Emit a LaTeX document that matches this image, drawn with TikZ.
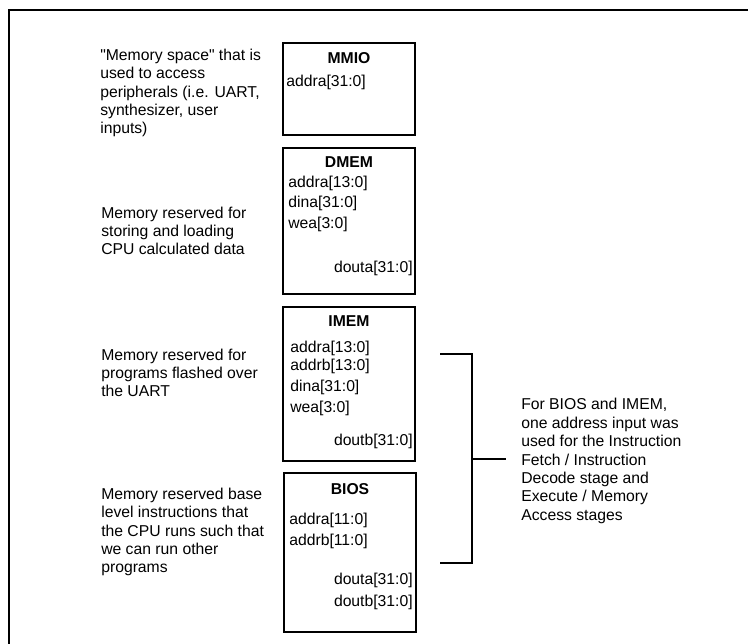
\documentclass[tikz,border=0pt]{standalone}
\usepackage{fontspec}
\setmainfont{Liberation Sans}[Ligatures=TeXOff]

\begin{document}
\begin{tikzpicture}[x=0.75pt,y=-0.75pt,
  every node/.style={inner sep=0pt, font=\fontsize{11.8pt}{13.6pt}\selectfont},
  membox/.style={draw, line width=0.9pt, minimum width=99pt},
  title/.style={font=\fontsize{11.8pt}{13.6pt}\selectfont\bfseries},
  port/.style={anchor=west},
  outport/.style={anchor=east},
  desc/.style={anchor=west, align=left}]

  \useasboundingbox (0,0) rectangle (748,643);

  % outer frame (only top and left edge are visible)
  \draw[line width=1.7pt] (9,660) -- (9,10) -- (760,10);

  % memory blocks
  \node[membox, minimum height=69pt] (mmio) at (349,89) {};
  \node[membox, minimum height=109.5pt] (dmem) at (349,221) {};
  \node[membox, minimum height=115.5pt] (imem) at (349,384) {};
  \node[membox, minimum height=119.25pt] (bios) at (350,552.5) {};

  \node[title] (mmiot) at (349,58) {MMIO};
  \node[port] (mmioaddra) at (286,82) {addra[31:0]};

  \node[title] (dmemt) at (349,162) {DMEM};
  \node[port] (dmemaddra) at (288,183) {addra[13:0]};
  \node[port] (dmemdina) at (288,203) {dina[31:0]};
  \node[port] (dmemwea) at (288,224) {wea[3:0]};
  \node[outport] (dmemdouta) at (413,268) {douta[31:0]};

  \node[title] (imemt) at (349,321) {IMEM};
  \node[port] (imemaddra) at (290,348) {addra[13:0]};
  \node[port] (imemaddrb) at (290,366) {addrb[13:0]};
  \node[port] (imemdina) at (290,387) {dina[31:0]};
  \node[port] (imemwea) at (290,408) {wea[3:0]};
  \node[outport] (imemdoutb) at (413,441) {doutb[31:0]};

  \node[title] (biost) at (350,489) {BIOS};
  \node[port] (biosaddra) at (289,520) {addra[11:0]};
  \node[port] (biosaddrb) at (289,541) {addrb[11:0]};
  \node[outport] (biosdouta) at (413,580) {douta[31:0]};
  \node[outport] (biosdoutb) at (413,602) {doutb[31:0]};

  % descriptions
  \node[desc] (mmiodesc) at (100,93) {"Memory space" that is\\used to access\\peripherals (i.e. UART,\\synthesizer, user\\inputs)};
  \node[desc] (dmemdesc) at (101,231) {Memory reserved for\\storing and loading\\CPU calculated data};
  \node[desc] (imemdesc) at (101,373) {Memory reserved for\\programs flashed over\\the UART};
  \node[desc] (biosdesc) at (101,532) {Memory reserved base\\level instructions that\\the CPU runs such that\\we can run other\\programs};

  % bracket over IMEM and BIOS
  \node[desc, font=\fontsize{11.8pt}{13.8pt}\selectfont] (note) at (521,461) {For BIOS and IMEM,\\one address input was\\used for the Instruction\\Fetch / Instruction\\Decode stage and\\Execute / Memory\\Access stages};
  \coordinate (brtop) at (440,354);
  \coordinate (brbot) at (440,563);
  \coordinate (brmid) at (472,459);
  \draw[line width=1.5pt] (brtop) -- (472,354) -- (472,563) -- (brbot);
  \draw[line width=1.5pt] (brmid) -- ([xshift=-11pt]note.west |- brmid);

\end{tikzpicture}
\end{document}
